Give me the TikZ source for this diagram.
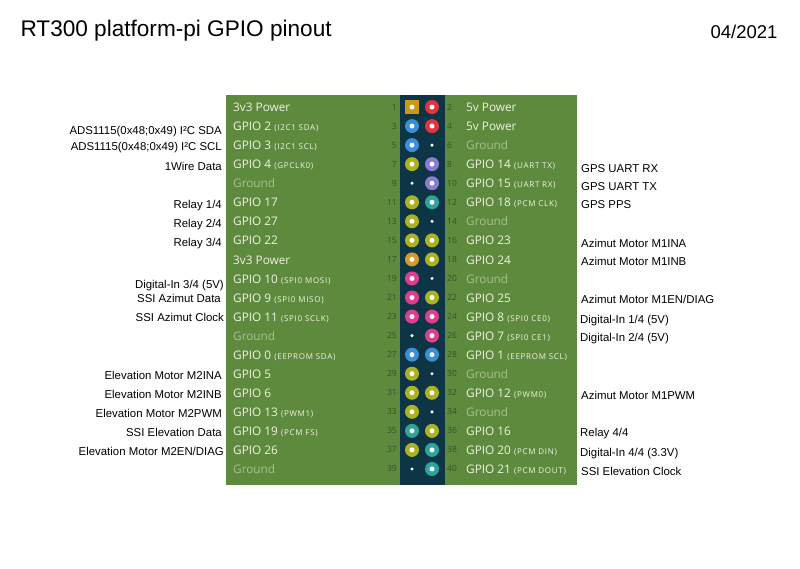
\documentclass[tikz,border=0pt]{standalone}
\usepackage{fontspec}
\setmainfont{Liberation Sans}
\newfontfamily\pinfont{Open Sans}
\definecolor{board}{HTML}{5E8A3E}
\definecolor{header}{HTML}{0E3545}
\definecolor{lbltext}{HTML}{F2F2E4}
\definecolor{gndtext}{HTML}{A7C08E}
\definecolor{numtext}{HTML}{34512B}
\definecolor{cgold}{HTML}{C89A14}
\definecolor{corange}{HTML}{D29C2A}
\definecolor{cred}{HTML}{E3343F}
\definecolor{cblue}{HTML}{3A8FD6}
\definecolor{colive}{HTML}{ADB223}
\definecolor{cpurple}{HTML}{8A7BD6}
\definecolor{cteal}{HTML}{2EA59C}
\definecolor{cpink}{HTML}{DD3F8E}
\newcommand{\pinsub}[1]{{\fontsize{8}{8}\selectfont\addfontfeature{LetterSpace=9}#1}}
\newcommand{\gndlbl}{\textcolor{gndtext}{Ground}}
\begin{document}
\begin{tikzpicture}[x=1pt,y=-1pt,
	lbl/.style={font=\pinfont\fontsize{11.8}{13}\selectfont,text=lbltext,inner sep=0},
	num/.style={font=\pinfont\fontsize{8.5}{9}\selectfont,text=numtext,inner sep=0},
	note/.style={font=\fontsize{11.4}{12}\selectfont,inner sep=0},
	pinhead/.style={circle,minimum size=14,inner sep=0,
		path picture={\fill[white] (path picture bounding box.center) circle (2.5);}},
	pthree/.style={pinhead,rectangle,minimum size=13.5,fill=cgold},
	pthreec/.style={pinhead,fill=corange},
	pfive/.style={pinhead,fill=cred},
	pi2c/.style={pinhead,fill=cblue},
	peep/.style={pinhead,fill=cblue},
	pgpio/.style={pinhead,fill=colive},
	puart/.style={pinhead,fill=cpurple},
	ppcm/.style={pinhead,fill=cteal},
	pspi/.style={pinhead,fill=cpink},
	pgnd/.style={circle,minimum size=14,inner sep=0,
		path picture={\fill[white] (path picture bounding box.center) circle (1.7);}}]
	\useasboundingbox (0,0) rectangle (800,568);
	\node[anchor=base west,font=\fontsize{22.6}{26}\selectfont] (title) at (17,36) {RT300 platform-pi GPIO pinout};
	\node[anchor=base east,font=\fontsize{18.5}{20}\selectfont] (date) at (781,38) {04/2021};
	\fill[board] (226,95) rectangle (577,485);
	\fill[header] (400,95) rectangle (445,485);
	\foreach \r/\lt/\lp/\rt/\rp in {
		1/{3v3 Power}/pthree/{5v Power}/pfive,
		2/{GPIO 2 \pinsub{(I2C1 SDA)}}/pi2c/{5v Power}/pfive,
		3/{GPIO 3 \pinsub{(I2C1 SCL)}}/pi2c/{\gndlbl}/pgnd,
		4/{GPIO 4 \pinsub{(GPCLK0)}}/pgpio/{GPIO 14 \pinsub{(UART TX)}}/puart,
		5/{\gndlbl}/pgnd/{GPIO 15 \pinsub{(UART RX)}}/puart,
		6/{GPIO 17}/pgpio/{GPIO 18 \pinsub{(PCM CLK)}}/ppcm,
		7/{GPIO 27}/pgpio/{\gndlbl}/pgnd,
		8/{GPIO 22}/pgpio/{GPIO 23}/pgpio,
		9/{3v3 Power}/pthreec/{GPIO 24}/pgpio,
		10/{GPIO 10 \pinsub{(SPI0 MOSI)}}/pspi/{\gndlbl}/pgnd,
		11/{GPIO 9 \pinsub{(SPI0 MISO)}}/pspi/{GPIO 25}/pgpio,
		12/{GPIO 11 \pinsub{(SPI0 SCLK)}}/pspi/{GPIO 8 \pinsub{(SPI0 CE0)}}/pspi,
		13/{\gndlbl}/pgnd/{GPIO 7 \pinsub{(SPI0 CE1)}}/pspi,
		14/{GPIO 0 \pinsub{(EEPROM SDA)}}/peep/{GPIO 1 \pinsub{(EEPROM SCL)}}/peep,
		15/{GPIO 5}/pgpio/{\gndlbl}/pgnd,
		16/{GPIO 6}/pgpio/{GPIO 12 \pinsub{(PWM0)}}/pgpio,
		17/{GPIO 13 \pinsub{(PWM1)}}/pgpio/{\gndlbl}/pgnd,
		18/{GPIO 19 \pinsub{(PCM FS)}}/ppcm/{GPIO 16}/pgpio,
		19/{GPIO 26}/pgpio/{GPIO 20 \pinsub{(PCM DIN)}}/ppcm,
		20/{\gndlbl}/pgnd/{GPIO 21 \pinsub{(PCM DOUT)}}/ppcm} {
		\pgfmathsetmacro\y{107+(\r-1)*19.05}
		\pgfmathtruncatemacro\po{2*\r-1}
		\pgfmathtruncatemacro\pe{2*\r}
		\node[\lp] (pin\po) at (412,\y) {};
		\node[\rp] (pin\pe) at (432,\y) {};
		\node[num,anchor=east] (num\po) at (397,\y) {\po};
		\node[num,anchor=west] (num\pe) at (447,\y) {\pe};
		\node[lbl,anchor=base west] (lbl\po) at (233,\y+4.6) {\lt};
		\node[lbl,anchor=base west] (lbl\pe) at (466,\y+4.6) {\rt};
	}
	\node[note,anchor=base east] (sda) at (222,134) {ADS1115(0x48;0x49) I²C SDA};
	\node[note,anchor=base east] (scl) at (222,150) {ADS1115(0x48;0x49) I²C SCL};
	\node[note,anchor=base east] (onewire) at (222,170) {1Wire Data};
	\node[note,anchor=base east] (relayA) at (222,208) {Relay 1/4};
	\node[note,anchor=base east] (relayB) at (222,227) {Relay 2/4};
	\node[note,anchor=base east] (relayC) at (222,246) {Relay 3/4};
	\node[note,anchor=base east] (dinC) at (224,288) {Digital-In 3/4 (5V)};
	\node[note,anchor=base east] (azdata) at (221,302) {SSI Azimut Data};
	\node[note,anchor=base east] (azclk) at (224,321) {SSI Azimut Clock};
	\node[note,anchor=base east] (elina) at (222,379) {Elevation Motor M2INA};
	\node[note,anchor=base east] (elinb) at (222,398) {Elevation Motor M2INB};
	\node[note,anchor=base east] (elpwm) at (222,417) {Elevation Motor M2PWM};
	\node[note,anchor=base east] (eldata) at (222,436) {SSI Elevation Data};
	\node[note,anchor=base east] (eldiag) at (224,455) {Elevation Motor M2EN/DIAG};
	\node[note,anchor=base west] (gpsrx) at (581,172) {GPS UART RX};
	\node[note,anchor=base west] (gpstx) at (581,190) {GPS UART TX};
	\node[note,anchor=base west] (gpspps) at (581,208) {GPS PPS};
	\node[note,anchor=base west] (azina) at (581,247) {Azimut Motor M1INA};
	\node[note,anchor=base west] (azinb) at (581,265) {Azimut Motor M1INB};
	\node[note,anchor=base west] (azdiag) at (581,303) {Azimut Motor M1EN/DIAG};
	\node[note,anchor=base west] (dinA) at (580,323) {Digital-In 1/4 (5V)};
	\node[note,anchor=base west] (dinB) at (580,341) {Digital-In 2/4 (5V)};
	\node[note,anchor=base west] (azpwm) at (581,399) {Azimut Motor M1PWM};
	\node[note,anchor=base west] (relayD) at (580,436) {Relay 4/4};
	\node[note,anchor=base west] (dinD) at (580,456) {Digital-In 4/4 (3.3V)};
	\node[note,anchor=base west] (elclk) at (581,475) {SSI Elevation Clock};
\end{tikzpicture}
\end{document}
